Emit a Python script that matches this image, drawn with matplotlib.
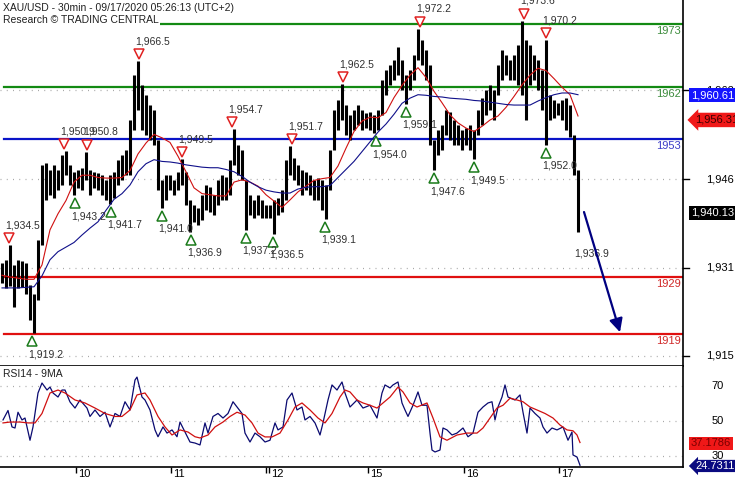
import numpy as np
import matplotlib.pyplot as plt
from matplotlib.transforms import offset_copy, blended_transform_factory

plt.rcParams['font.family'] = ['Liberation Sans', 'DejaVu Sans']

# hourly high / low of the XAU/USD 30min chart (one entry per 2 bars)
bar_high = [1931.5, 1932.0, 1934.5, 1931.0, 1932.0, 1931.8, 1931.5, 1927.6, 1926.0, 1935.4,
            1948.5, 1948.8, 1947.6, 1948.5, 1947.6, 1950.2, 1950.9, 1948.5, 1947.3, 1947.6,
            1948.0, 1950.8, 1947.6, 1947.3, 1947.1, 1946.7, 1945.9, 1946.7, 1947.3, 1949.3,
            1950.2, 1951.1, 1956.3, 1964.1, 1966.5, 1962.4, 1960.7, 1958.9, 1958.0, 1952.8,
            1945.9, 1946.7, 1946.7, 1945.9, 1947.3, 1949.5, 1947.3, 1942.4, 1941.5, 1941.0,
            1943.3, 1945.0, 1944.7, 1943.3, 1945.9, 1946.7, 1946.4, 1949.3, 1954.7, 1952.0,
            1951.1, 1945.9, 1943.3, 1942.4, 1943.3, 1942.4, 1941.5, 1941.5, 1942.4, 1942.7,
            1944.1, 1949.3, 1951.7, 1949.7, 1948.5, 1947.6, 1947.3, 1946.7, 1945.9, 1946.2,
            1945.9, 1945.0, 1951.1, 1958.0, 1959.8, 1962.5, 1958.9, 1957.2, 1958.0, 1958.9,
            1958.0, 1957.5, 1957.7, 1957.2, 1958.0, 1963.3, 1965.0, 1965.9, 1966.7, 1969.0,
            1966.7, 1964.1, 1965.0, 1967.6, 1972.2, 1970.2, 1968.5, 1965.9, 1952.8, 1954.6,
            1955.4, 1958.0, 1957.7, 1956.3, 1955.4, 1954.6, 1954.9, 1955.4, 1954.6, 1958.0,
            1960.1, 1961.5, 1962.4, 1961.5, 1965.9, 1968.5, 1967.6, 1966.7, 1967.6, 1969.3,
            1973.6, 1970.2, 1969.3, 1967.6, 1966.7, 1965.0, 1970.2, 1960.6, 1959.8, 1959.3,
            1959.8, 1960.1, 1958.9, 1953.7, 1947.6]
bar_low = [1928.0, 1927.0, 1927.5, 1923.7, 1927.0, 1927.3, 1926.0, 1921.5, 1919.2, 1925.0,
           1934.5, 1942.4, 1943.3, 1942.7, 1944.1, 1945.0, 1946.7, 1945.0, 1943.2, 1944.5,
           1944.1, 1945.9, 1943.3, 1944.5, 1944.1, 1943.3, 1942.4, 1941.7, 1942.7, 1945.0,
           1945.9, 1946.7, 1946.7, 1954.6, 1958.0, 1954.6, 1953.7, 1952.8, 1952.0, 1944.1,
           1941.0, 1942.4, 1944.1, 1943.3, 1944.1, 1945.0, 1941.5, 1936.9, 1938.6, 1938.0,
           1938.9, 1940.7, 1940.3, 1939.8, 1941.5, 1942.4, 1942.4, 1943.3, 1948.5, 1946.7,
           1945.9, 1937.2, 1939.8, 1939.3, 1939.8, 1939.3, 1939.3, 1939.3, 1936.5, 1939.8,
           1940.3, 1942.4, 1946.7, 1945.9, 1945.0, 1943.3, 1944.1, 1943.3, 1942.4, 1942.4,
           1940.7, 1939.1, 1944.1, 1951.1, 1954.6, 1956.3, 1953.7, 1952.8, 1954.6, 1955.4,
           1954.6, 1954.9, 1954.6, 1954.0, 1954.6, 1957.2, 1960.6, 1962.4, 1963.3, 1964.1,
           1961.5, 1959.1, 1961.5, 1963.3, 1966.7, 1965.9, 1963.3, 1952.0, 1947.6, 1950.2,
           1951.1, 1953.7, 1952.8, 1952.0, 1952.0, 1951.1, 1952.0, 1951.1, 1949.5, 1953.7,
           1955.4, 1957.2, 1958.0, 1956.3, 1960.6, 1963.3, 1964.1, 1963.3, 1963.3, 1962.4,
           1960.6, 1956.3, 1962.4, 1963.3, 1961.5, 1958.0, 1952.0, 1956.3, 1956.6, 1957.2,
           1956.3, 1954.6, 1953.3, 1946.7, 1936.9]

# moving averages on price (every 4 bars)
ma_fast = [1929.3, 1929.0, 1928.8, 1928.6, 1928.6, 1931.1, 1937.2, 1940.0, 1942.3, 1945.5,
           1946.7, 1946.7, 1946.3, 1946.2, 1946.2, 1946.3, 1947.5, 1950.4, 1952.3, 1953.8,
           1953.2, 1952.4, 1950.0, 1947.3, 1944.5, 1943.5, 1943.3, 1943.1, 1943.1, 1945.5,
           1945.9, 1945.5, 1944.8, 1943.3, 1942.2, 1941.1, 1942.4, 1943.8, 1944.8, 1945.8,
           1946.1, 1946.3, 1948.3, 1951.4, 1954.3, 1956.1, 1956.8, 1956.7, 1957.6, 1960.2,
           1962.3, 1964.1, 1965.4, 1963.7, 1961.3, 1959.3, 1957.2, 1955.8, 1954.9, 1954.3,
           1955.2, 1956.3, 1957.0, 1958.5, 1960.4, 1962.4, 1964.1, 1965.3, 1964.9, 1963.5,
           1962.0, 1960.7, 1957.0]
ma_slow = [1927.1, 1927.1, 1927.1, 1927.2, 1927.3, 1929.2, 1932.0, 1933.4, 1934.2, 1935.0,
           1936.3, 1937.5, 1938.6, 1940.6, 1942.5, 1943.5, 1945.0, 1947.3, 1948.7, 1949.4,
           1949.1, 1949.0, 1948.8, 1948.5, 1948.3, 1948.1, 1948.0, 1948.0, 1947.7, 1947.3,
           1946.5, 1945.5, 1944.7, 1944.1, 1943.8, 1943.6, 1943.6, 1944.3, 1944.6, 1944.7,
           1944.7, 1944.9, 1946.3, 1947.7, 1949.1, 1950.8, 1952.5, 1954.2, 1955.6, 1957.3,
           1959.2, 1960.1, 1960.7, 1960.6, 1960.4, 1960.3, 1960.1, 1960.0, 1959.9, 1959.7,
           1959.6, 1959.4, 1959.2, 1959.0, 1958.9, 1958.9, 1958.9, 1959.6, 1960.2, 1960.7,
           1961.0, 1961.0, 1960.7]

# RSI14 and its 9MA (bar number, value)
rsi_t = [1.5, 4, 6, 7.5, 9, 11, 12.5, 15, 16.5, 19, 21, 23.5, 25, 26.5, 29, 31, 32.5, 35, 37.5, 40,
         43.5, 45, 47.5, 50, 52.5, 55, 57.5, 60, 62.5, 65, 67.5, 68.5, 71, 72.5, 75, 77.5, 79, 81.5,
         83.5, 86, 88.5, 90, 92.5, 95, 97.5, 100, 102.5, 104, 106.5, 109, 111.5, 114, 116.5, 118.5,
         121, 122.5, 125, 127.5, 130, 132.5, 135, 137.5, 139, 141.5, 143.5, 146, 148.5, 151, 152.5,
         155, 157.5, 160, 161.5, 164, 166, 168.5, 171, 172.5, 175, 178.5, 181.5, 185, 188.5, 191,
         192.5, 195, 196.5, 199, 201, 202.5, 204, 206.5, 209, 211, 213.5, 215, 216, 217.5, 220,
         221.5, 223.5, 226, 228.5, 231.5, 234, 236.5, 239, 241.5, 244, 246, 247.5, 249, 251, 252.5,
         254, 257.5, 260, 261.5, 263.5, 265, 267.5, 270, 271.5, 273.5, 276, 278.5, 281.5, 284, 286,
         286.5, 288.5, 290]
rsi = [50.6, 56, 46.6, 46, 55, 50.6, 51.7, 39, 46.6, 66, 71.7, 67.7, 69.4, 66, 63.7, 67.7, 67.7, 60.9,
       57.4, 62, 57.4, 52.6, 56.3, 52.6, 55, 46.6, 54.3, 52.6, 61, 56.3, 73.4, 75.1, 63.7, 62, 56.3,
       44.9, 41, 46.6, 43.1, 44.9, 41, 49.4, 43.7, 38, 37.4, 36.3, 48.9, 43.1, 52.6, 54.3, 51.7, 54.3,
       61, 58, 54.3, 43.1, 38, 43.1, 41, 38, 39, 48.9, 44.9, 46.6, 62, 66, 56.3, 58, 50.6, 52.6, 48.9,
       42, 48.9, 62, 70.6, 67.7, 72.3, 66, 58, 62, 57.4, 59, 51.7, 66, 70.6, 68.9, 70.6, 72.3, 60.3,
       56.3, 52.6, 59, 66.6, 59, 59, 43.1, 33.4, 32.3, 33.4, 46, 44.9, 42, 43.1, 46, 41, 43.1, 55, 58,
       60.3, 61, 50.6, 58, 63.7, 70.6, 63.7, 62, 64.9, 55, 43.1, 57.4, 54.3, 51.7, 46.6, 43.1, 46,
       44.9, 46.6, 39, 43.7, 30.6, 29.4, 24.7]
rsi_ma_t = [1.5, 5, 10, 14, 17.5, 21, 25, 29, 32.5, 37.5, 42.5, 47.5, 52.5, 57.5, 61, 65, 68.5, 72.5,
            75, 79, 82.5, 86, 90, 94, 97.5, 100, 104, 107.5, 111.5, 115, 118.5, 122.5, 126, 129,
            132.5, 136, 140, 144, 147.5, 151, 155, 159, 162.5, 166, 170, 172.5, 175, 178.5, 181.5,
            185, 188.5, 191.5, 195, 199, 201.5, 205, 208.5, 213.5, 216.5, 220, 223.5, 228.5, 233.5,
            238.5, 241.5, 245, 248.5, 251.5, 255, 258.5, 261.5, 265, 268.5, 272.5, 276.5, 280,
            283.5, 286.5, 288.5, 290]
rsi_ma = [48.9, 49.4, 49.4, 48.9, 48.9, 54.3, 66, 67.7, 66, 62, 60.3, 57.4, 54.3, 52.6, 52.6, 56.3,
          64.9, 66, 62, 52.6, 46.6, 42, 44.9, 43.7, 41, 40.3, 42, 46.6, 49.4, 52.6, 55, 53.4, 48.9,
          43.1, 40.9, 40.9, 43.1, 50.6, 58, 60.3, 56.3, 51.7, 48.9, 54.3, 63.7, 67.7, 66.6, 62, 60.3,
          59, 57.4, 60.3, 63.7, 69.4, 66.6, 60.3, 58, 60.3, 51.7, 40.9, 39, 42, 43.1, 43.1, 46, 51.7,
          57.4, 59, 63, 62, 61, 58, 56.3, 54.3, 51.7, 47.7, 44.9, 44.4, 42, 37.7]

# turning points: bar number, price
peak_t = [4.5, 32, 43.5, 69.5, 91, 116, 146, 171.5, 210, 262, 273]
peak_p = [1934.5, 1950.9, 1950.8, 1966.5, 1949.5, 1954.7, 1951.7, 1962.5, 1972.2, 1973.6, 1970.2]
trough_t = [16, 37.5, 55.5, 81, 95.5, 123, 136.5, 162.5, 188, 203, 217, 237, 273]
trough_p = [1919.2, 1943.2, 1941.7, 1941.0, 1936.9, 1937.2, 1936.5, 1939.1, 1954.0, 1959.1,
            1947.6, 1949.5, 1952.0]

levels = [1973, 1962, 1953, 1929, 1919]
level_colors = ['#138a13', '#138a13', '#0a14c8', '#e01010', '#e01010']
level_text = ['#3c8c3c', '#3c8c3c', '#3c3cc8', '#d02828', '#d02828']

price_ticks = [1961.5, 1946, 1930.6, 1915.3]
price_labels = ['1,962', '1,946', '1,931', '1,915']
rsi_ticks = [70, 50, 30]
day_ticks = [38, 85.5, 133, 134.5, 184, 232, 279.5]
day_pos = [38, 85.5, 134.5, 184, 232, 279.5]
day_names = ['10', '11', '12', '15', '16', '17']

W, H = 735, 480
fig = plt.figure(figsize=(W / 100, H / 100), dpi=100)
ax = fig.add_axes([0, 114 / H, 683 / W, 366 / H])
ax2 = fig.add_axes([0, 13 / H, 683 / W, 101 / H], sharex=ax)

bar_t = np.arange(1, 2 * len(bar_high), 2)
ma_t = np.arange(1, 290, 4)

ax.set_xlim(0, 341.5)
ax.set_ylim(1913.52, 1977.17)
ax2.set_ylim(23.71, 81.43)

for a in (ax, ax2):
    for s in ('left', 'top'):
        a.spines[s].set_visible(False)
    a.spines['right'].set_linewidth(1.2)
    a.spines['bottom'].set_linewidth(1.2)
    a.set_yticks([])

dots = dict(color='#a8a8a8', lw=0.9, dashes=(0.8, 4.2), zorder=0)
for p in price_ticks:
    ax.axhline(p, **dots)
for r in rsi_ticks:
    ax2.axhline(r, **dots)

ax.tick_params(axis='x', length=0, labelbottom=False)
ax2.set_xticks(day_ticks)
ax2.set_xticklabels([])
ax2.tick_params(axis='x', direction='out', length=4, width=1)

# support / resistance levels
for lv, c, tc in zip(levels, level_colors, level_text):
    ax.axhline(lv, xmin=4 / 683, color=c, lw=1.6, zorder=2)
    tr = offset_copy(blended_transform_factory(ax.transAxes, ax.transData), fig, x=-2, y=-7, units='dots')
    ax.text(1, lv, str(lv), transform=tr, ha='right', va='center', color=tc, fontsize=8)

# price bars and averages
ax.vlines(bar_t, bar_low, bar_high, color='black', lw=2.2, zorder=3)
ax.plot(ma_t, ma_fast, color='#d01010', lw=0.8, zorder=4)
ax.plot(ma_t, ma_slow, color='#10108a', lw=0.8, zorder=4)

up = offset_copy(ax.transData, fig, x=0, y=7, units='dots')
dn = offset_copy(ax.transData, fig, x=0, y=-8, units='dots')
ax.plot(peak_t, peak_p, 'v', transform=up, ms=7, mfc='white', mec='#e02020', mew=1.1, zorder=5)
ax.plot(trough_t, trough_p, '^', transform=dn, ms=7, mfc='white', mec='#1a7a1a', mew=1.1, zorder=5)
for t, p in zip(peak_t, peak_p):
    ax.annotate(f'{p:,.1f}', (t, p), xytext=(-4, 20), textcoords='offset pixels',
                ha='left', va='center', fontsize=7.5, color='#303030', zorder=6)
for t, p in zip(trough_t, trough_p):
    ax.annotate(f'{p:,.1f}', (t, p), xytext=(-4, -21), textcoords='offset pixels',
                ha='left', va='center', fontsize=7.5, color='#303030', zorder=6)
ax.annotate('1,936.9', (289, 1936.9), xytext=(-4, -22), textcoords='offset pixels',
            ha='left', va='center', fontsize=7.5, color='#303030', zorder=6)

# projected move
ax.annotate('', xy=(310, 1919.4), xytext=(292, 1940.3),
            arrowprops=dict(arrowstyle='-|>', color='#000080', lw=1.6, mutation_scale=20,
                            shrinkA=0, shrinkB=0), zorder=7)

# right-hand price scale
rt = blended_transform_factory(ax.transAxes, ax.transData)
for p, lab in zip(price_ticks, price_labels):
    ax.plot([1, 1 + 6 / 683], [p, p], transform=rt, color='black', lw=1, clip_on=False)
    ax.text(720 / 683, p, lab, transform=rt, ha='center', va='center', fontsize=8, clip_on=False)
ax.text(1.0117, 1960.61, '1,960.61', transform=rt, ha='left', va='center', fontsize=8,
        color='white', clip_on=False, zorder=8,
        bbox=dict(boxstyle='square,pad=0.2', fc='#1414ff', ec='none'))
ax.text(1.018, 1956.31, '1,956.31', transform=rt, ha='left', va='center', fontsize=8,
        color='#3a0000', clip_on=False, zorder=8,
        bbox=dict(boxstyle='larrow,pad=0.2', fc='#f01818', ec='none'))
ax.text(1.0117, 1940.13, '1,940.13', transform=rt, ha='left', va='center', fontsize=8,
        color='white', clip_on=False, zorder=8,
        bbox=dict(boxstyle='square,pad=0.2', fc='black', ec='none'))

# RSI panel
ax2.plot(rsi_t, rsi, color='#0a0a70', lw=0.9, zorder=3)
ax2.plot(rsi_ma_t, rsi_ma, color='#d01010', lw=0.9, zorder=4)
rt2 = blended_transform_factory(ax2.transAxes, ax2.transData)
for r in rsi_ticks:
    ax2.text(718 / 683, r, str(r), transform=rt2, ha='center', va='center', fontsize=8, clip_on=False)
ax2.text(1.0117, 37.1786, '37.1786', transform=rt2, ha='left', va='center', fontsize=8,
         color='#7a0000', clip_on=False, zorder=8,
         bbox=dict(boxstyle='square,pad=0.15', fc='#f01818', ec='none'))
ax2.text(1.018, 24.3, '24.7311', transform=rt2, ha='left', va='center', fontsize=8,
         color='white', clip_on=False, zorder=8,
         bbox=dict(boxstyle='larrow,pad=0.1', fc='#0a0a80', ec='none'))

dt = offset_copy(blended_transform_factory(ax2.transData, ax2.transAxes), fig, x=2, y=-2, units='dots')
for t, name in zip(day_pos, day_names):
    ax2.text(t, 0, name, transform=dt, ha='left', va='top', fontsize=8, clip_on=False)

fig.text(3 / W, 1 - 8 / H, 'XAU/USD - 30min - 09/17/2020 05:26:13 (UTC+2)', ha='left', va='center',
         fontsize=7.5, color='#202020')
fig.text(3 / W, 1 - 20 / H, 'Research \u00a9 TRADING CENTRAL', ha='left', va='center', fontsize=7.5,
         color='#202020', bbox=dict(boxstyle='square,pad=0.1', fc='white', ec='none'))
fig.text(3 / W, 1 - 374 / H, 'RSI14 - 9MA', ha='left', va='center', fontsize=7.5, color='#202020')

fig.savefig('out.png', dpi=100)
